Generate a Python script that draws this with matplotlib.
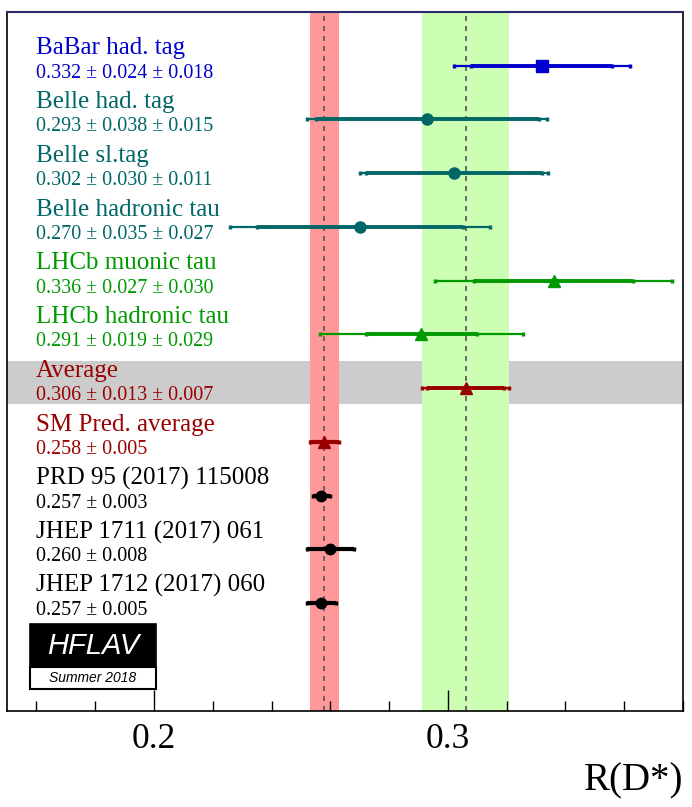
import numpy as np
import matplotlib
matplotlib.use("Agg")
import matplotlib.pyplot as plt
from matplotlib.patches import Rectangle
from matplotlib.ticker import MultipleLocator, FixedLocator

# measurements: R(D*) value, stat, syst
labels = ["BaBar had. tag", "Belle had. tag", "Belle sl.tag", "Belle hadronic tau",
          "LHCb muonic tau", "LHCb hadronic tau", "Average"]
values = [0.332, 0.293, 0.302, 0.270, 0.336, 0.291, 0.306]
stat   = [0.024, 0.038, 0.030, 0.035, 0.027, 0.019, 0.013]
syst   = [0.018, 0.015, 0.011, 0.027, 0.030, 0.029, 0.007]
colors = ["#0000cc", "#006666", "#006666", "#006666", "#009900", "#009900", "#990000"]
markers = ["s", "o", "o", "o", "^", "^", "^"]

# predictions: value, error
th_labels = ["SM Pred. average", "PRD 95 (2017) 115008", "JHEP 1711 (2017) 061", "JHEP 1712 (2017) 060"]
th_values = [0.258, 0.257, 0.260, 0.257]
th_errors = [0.005, 0.003, 0.008, 0.005]
th_colors = ["#990000", "black", "black", "black"]
th_markers = ["^", "o", "o", "o"]

serif = "Liberation Serif"
fig = plt.figure(figsize=(6.92, 8.07), dpi=100)
ax = fig.add_axes([7/692, 1-710.7/807, 676/692, 698.7/807])

ax.set_xlim(0.15, 0.38)
ax.set_ylim(12, -1)

# bands
avg_i = labels.index("Average")
ax.axhspan(avg_i - 0.5, avg_i + 0.29, color="#cccccc", lw=0, zorder=0)
avg_err = np.hypot(stat[avg_i], syst[avg_i])
ax.axvspan(values[avg_i] - avg_err, values[avg_i] + avg_err, color="#ccffb3", lw=0, zorder=1)
ax.axvspan(th_values[0] - th_errors[0], th_values[0] + th_errors[0], color="#ff9999", lw=0, zorder=1)
ax.axvline(values[avg_i], color="#555555", ls=(0, (3, 3)), lw=1.2, zorder=2)
ax.axvline(th_values[0], color="#555555", ls=(0, (3, 3)), lw=1.2, zorder=2)

tx = 0.0429
trans = ax.get_yaxis_transform()
for i in range(len(labels)):
    c = colors[i]
    tot = np.hypot(stat[i], syst[i])
    ax.errorbar(values[i], i, xerr=tot, fmt="none", ecolor=c, elinewidth=1.6,
                capsize=1.5, capthick=2.5, zorder=3)
    ax.errorbar(values[i], i, xerr=stat[i], fmt=markers[i], color=c,
                ms=9 if markers[i] == "^" else 8, elinewidth=2.8,
                capsize=1.5, capthick=2.5, zorder=4)
    ax.text(tx, i - 0.21, labels[i], transform=trans, color=c, fontsize=18,
            family=serif, va="baseline")
    ax.text(tx, i + 0.22, "%.3f ± %.3f ± %.3f" % (values[i], stat[i], syst[i]),
            transform=trans, color=c, fontsize=14.4, family=serif, va="baseline")

n0 = len(labels)
for j in range(len(th_labels)):
    y = n0 + j
    c = th_colors[j]
    ax.errorbar(th_values[j], y, xerr=th_errors[j], fmt=th_markers[j], color=c,
                ms=9 if th_markers[j] == "^" else 7.5, elinewidth=3,
                capsize=1.5, capthick=2.5, zorder=4)
    ax.text(tx, y - 0.21, th_labels[j], transform=trans, color=c,
            fontsize=18, family=serif, va="baseline")
    ax.text(tx, y + 0.22, "%.3f ± %.3f" % (th_values[j], th_errors[j]),
            transform=trans, color=c, fontsize=14.4, family=serif, va="baseline")

# axes styling
ax.set_yticks([])
ax.xaxis.set_major_locator(FixedLocator([0.2, 0.3]))
ax.xaxis.set_minor_locator(MultipleLocator(0.02))
ax.set_xticklabels(["0.2", "0.3"], family=serif, fontsize=25.5)
ax.tick_params(axis="x", which="major", direction="in", length=15, width=1, pad=9)
ax.tick_params(axis="x", which="minor", direction="in", length=7.5, width=1)
for s in ["left", "right", "bottom"]:
    ax.spines[s].set_color("black")
    ax.spines[s].set_linewidth(1.2)
ax.spines["top"].set_color("#2a2a6a")
ax.spines["top"].set_linewidth(1.5)

fig.text(683/692, 1 - 790/807, "R(D*)", ha="right", va="baseline", family=serif, fontsize=28)

# HFLAV logo
fig.add_artist(Rectangle((30/692, 1 - 666.7/807), 126/692, 42.7/807, transform=fig.transFigure,
                         facecolor="black", edgecolor="black", lw=1.2))
fig.add_artist(Rectangle((30/692, 1 - 689.3/807), 126/692, 22.6/807, transform=fig.transFigure,
                         facecolor="white", edgecolor="black", lw=1.5))
fig.text(93/692, 1 - 646/807, "HFLAV", color="white", ha="center", va="center",
         family="Liberation Sans", style="italic", fontsize=21)
fig.text(93/692, 1 - 678/807, "Summer 2018", color="black", ha="center", va="center",
         family="Liberation Sans", style="italic", fontsize=10)

fig.savefig("out.png", dpi=100)
